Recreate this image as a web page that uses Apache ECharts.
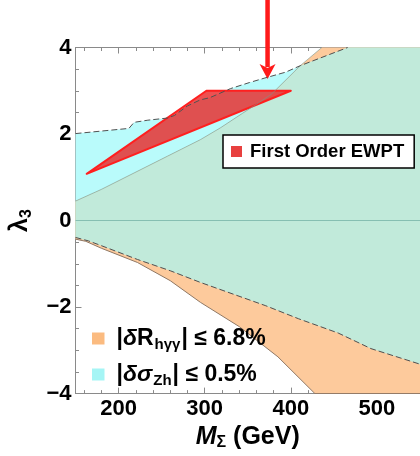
<!DOCTYPE html>
<html>
<head>
<meta charset="utf-8">
<script src="https://cdn.jsdelivr.net/npm/echarts@6/dist/echarts.min.js"></script>
<style>
  html, body { margin: 0; padding: 0; background: #fff; }
  #chart { width: 420px; height: 456px; }
</style>
</head>
<body>
<div id="chart"></div>
<script>
// boundaries, [M_Sigma (GeV), lambda_3]
const cyanUpper = [[150, 2.01], [212, 2.13], [218, 2.27], [234, 2.32], [257, 2.37], [265, 2.43], [280, 2.65], [295, 2.79], [306, 2.84], [330, 3.05], [352, 3.19], [369, 3.29], [394, 3.43], [411, 3.58], [466, 4.0], [550, 4.0]]
const cyanLower = [[150, -0.39], [165, -0.47], [180, -0.58], [222, -0.90], [260, -1.16], [295, -1.43], [333, -1.70], [371, -1.97], [409, -2.27], [455, -2.60], [493, -2.96], [550, -3.32]]
const orangeUpper = [[150, 0.45], [180, 0.72], [218, 1.10], [257, 1.49], [295, 1.87], [318, 2.14], [344, 2.48], [377, 2.91], [411, 3.58], [436, 4.0], [550, 4.0]]
const orangeLower = [[150, -0.43], [162, -0.48], [180, -0.64], [222, -0.97], [260, -1.39], [295, -1.89], [340, -2.45], [385, -3.15], [428, -4.0], [550, -4.0]]
const crossM = 411   // where the two upper boundaries cross

// first order EWPT triangle
const ewptM = [163, 302, 400]
const ewptL = [1.08, 3.0, 3.0]

// arrow
const arrowM = 373
const arrowFrom = 5.1
const arrowTo = 3.27

const xMajor = [200, 300, 400, 500]
const xMinor = [160, 180, 220, 240, 260, 280, 320, 340, 360, 380, 420, 440, 460, 480, 520, 540]

const nameR = '|δR_hγγ| ≤ 6.8%'
const nameZ = '|δσ_Zh| ≤ 0.5%'
const nameE = 'First Order EWPT'

const font = '"Liberation Sans", Arial, Helvetica, sans-serif'

const overlapTop = orangeUpper.filter(p => p[0] <= crossM).concat(cyanUpper.filter(p => p[0] > crossM))
const band = (up, low) => up.concat(low.slice().reverse())
const trimTop = a => a.filter((p, i) => !(i > 0 && a[i - 1][1] >= 4))

function polySeries(name, pts, color, legendColor) {
    return {
        name: name,
        type: 'custom',
        itemStyle: { color: legendColor || color },
        data: pts,
        silent: true,
        renderItem: function (params, api) {
            if (params.dataIndex > 0) return
            return {
                type: 'polygon',
                shape: { points: pts.map(p => api.coord(p)) },
                style: { fill: color }
            }
        }
    }
}

function lineSeries(pts, color, width, type) {
    return {
        type: 'line',
        data: pts,
        showSymbol: false,
        silent: true,
        lineStyle: { color: color, width: width, type: type }
    }
}

const chart = echarts.init(document.getElementById('chart'))

const baseX = { type: 'value', min: 150, max: 550, splitLine: { show: false } }
const gray = '#8a8a8a'
const bold = { fontFamily: font, fontWeight: 'bold', color: '#000' }

let option = {
    animation: false,
    grid: { left: 74, top: 47.5, width: 350, height: 347.5 },
    xAxis: [
        Object.assign({}, baseX, {
            position: 'bottom',
            axisLine: { show: true, onZero: false, lineStyle: { color: gray, width: 1 } },
            axisTick: { show: true, inside: true, length: 6, customValues: xMajor, lineStyle: { color: gray } },
            axisLabel: Object.assign({ customValues: xMajor, margin: 4, fontSize: 22 }, bold),
            name: '{m|M}{s|Σ}{t| (GeV)}',
            nameLocation: 'middle',
            nameGap: 29,
            nameTextStyle: {
                rich: {
                    m: Object.assign({ fontStyle: 'italic', fontSize: 25, lineHeight: 28 }, bold),
                    s: Object.assign({ fontSize: 16, lineHeight: 28, verticalAlign: 'bottom' }, bold),
                    t: Object.assign({ fontSize: 25, lineHeight: 28 }, bold)
                }
            }
        }),
        Object.assign({}, baseX, {
            position: 'bottom',
            axisLine: { show: false, onZero: false },
            axisTick: { show: true, inside: true, length: 3.5, customValues: xMinor, lineStyle: { color: gray } },
            axisLabel: { show: false }
        }),
        Object.assign({}, baseX, {
            position: 'top',
            axisLine: { show: true, onZero: false, lineStyle: { color: gray, width: 1 } },
            axisTick: { show: true, inside: true, length: 6, customValues: xMajor, lineStyle: { color: gray } },
            axisLabel: { show: false }
        }),
        Object.assign({}, baseX, {
            position: 'top',
            axisLine: { show: false, onZero: false },
            axisTick: { show: true, inside: true, length: 3.5, customValues: xMinor, lineStyle: { color: gray } },
            axisLabel: { show: false }
        })
    ],
    yAxis: [
        {
            type: 'value', min: -4, max: 4, interval: 2, position: 'left',
            splitLine: { show: false },
            axisLine: { show: true, onZero: false, lineStyle: { color: gray, width: 1 } },
            axisTick: { show: true, inside: true, length: 6, lineStyle: { color: gray } },
            minorTick: { show: true, splitNumber: 4, length: 3.5, lineStyle: { color: gray } },
            axisLabel: Object.assign({
                margin: 4, fontSize: 22,
                formatter: v => (v < 0 ? '\u2212' + (-v) : '' + v)
            }, bold),
            name: '{l|λ}{s|3}',
            nameLocation: 'middle',
            nameGap: 41,
            nameTextStyle: {
                rich: {
                    l: Object.assign({ fontSize: 25, lineHeight: 28 }, bold),
                    s: Object.assign({ fontSize: 16, lineHeight: 28, verticalAlign: 'bottom' }, bold)
                }
            }
        },
        {
            type: 'value', min: -4, max: 4, interval: 2, position: 'right',
            splitLine: { show: false },
            axisLine: { show: true, onZero: false, lineStyle: { color: gray, width: 1 } },
            axisTick: { show: true, inside: true, length: 6, lineStyle: { color: gray } },
            minorTick: { show: true, splitNumber: 4, length: 3.5, lineStyle: { color: gray } },
            axisLabel: { show: false }
        }
    ],
    legend: [
        {
            data: [nameE],
            left: 223, top: 135,
            padding: [6, 10, 6, 8],
            backgroundColor: '#fff',
            borderColor: '#000',
            borderWidth: 1.5,
            borderRadius: 0,
            icon: 'rect',
            itemWidth: 11, itemHeight: 11, itemGap: 0,
            selectedMode: false,
            textStyle: Object.assign({ fontSize: 18.5, lineHeight: 21, padding: [0, 0, 0, 3] }, bold)
        },
        {
            data: [nameR, nameZ],
            orient: 'vertical',
            left: 92, top: 327,
            padding: 0,
            icon: 'rect',
            itemWidth: 12.5, itemHeight: 12, itemGap: 11,
            selectedMode: false,
            formatter: function (n) {
                if (n === nameR) return '{a||}{i|δ}{a|R}{s|hγγ}{a|| ≤ 6.8%}'
                return '{a||}{i|δσ}{s|Zh}{a|| ≤ 0.5%}'
            },
            textStyle: {
                padding: [0, 0, 0, 7],
                rich: {
                    a: Object.assign({ fontSize: 23, lineHeight: 27 }, bold),
                    i: Object.assign({ fontStyle: 'italic', fontSize: 23, lineHeight: 27 }, bold),
                    s: Object.assign({ fontSize: 15, lineHeight: 27, verticalAlign: 'bottom', padding: [0, 1, 0, 1] }, bold)
                }
            }
        }
    ],
    series: [
        polySeries(nameZ, band(cyanUpper, cyanLower), '#b9fbfb', '#a5f5f5'),
        polySeries(nameR, band(orangeUpper, orangeLower), '#fdca9c', '#fbbb80'),
        polySeries('overlap', band(overlapTop, cyanLower), '#c1eada'),
        lineSeries(orangeLower, '#8f7763', 1, 'solid'),
        lineSeries(trimTop(orangeUpper), 'rgba(120,150,140,0.75)', 0.8, 'solid'),
        lineSeries(cyanLower, '#505050', 1, [6, 3]),
        lineSeries(trimTop(cyanUpper), '#505050', 1, [6, 3]),
        {
            type: 'line',
            data: [],
            silent: true,
            markLine: {
                silent: true,
                symbol: 'none',
                label: { show: false },
                lineStyle: { color: '#86bfb2', width: 1, type: 'solid' },
                data: [{ yAxis: 0 }]
            }
        },
        {
            name: nameE,
            type: 'custom',
            itemStyle: { color: '#e8403f' },
            data: ewptM.map((m, i) => [m, ewptL[i]]),
            silent: true,
            renderItem: function (params, api) {
                if (params.dataIndex > 0) return
                const pts = ewptM.map((m, i) => api.coord([m, ewptL[i]]))
                return {
                    type: 'polygon',
                    shape: { points: pts },
                    style: { fill: 'rgba(232,38,38,0.8)', stroke: '#ff1f1f', lineWidth: 2, lineJoin: 'round' }
                }
            }
        },
        {
            type: 'custom',
            clip: false,
            data: [[arrowM, arrowFrom, arrowTo]],
            silent: true,
            renderItem: function (params, api) {
                const a = api.coord([api.value(0), api.value(1)])
                const b = api.coord([api.value(0), api.value(2)])
                const head = 15, half = 8
                return {
                    type: 'group',
                    children: [
                        {
                            type: 'line',
                            shape: { x1: a[0], y1: a[1], x2: b[0], y2: b[1] - head + 3 },
                            style: { stroke: '#ff1a1a', lineWidth: 4.5 }
                        },
                        {
                            type: 'polygon',
                            shape: { points: [[b[0], b[1]], [b[0] - half, b[1] - head], [b[0], b[1] - head + 4], [b[0] + half, b[1] - head]] },
                            style: { fill: '#ff1a1a' }
                        }
                    ]
                }
            }
        }
    ]
}

chart.setOption(option)
</script>
</body>
</html>
